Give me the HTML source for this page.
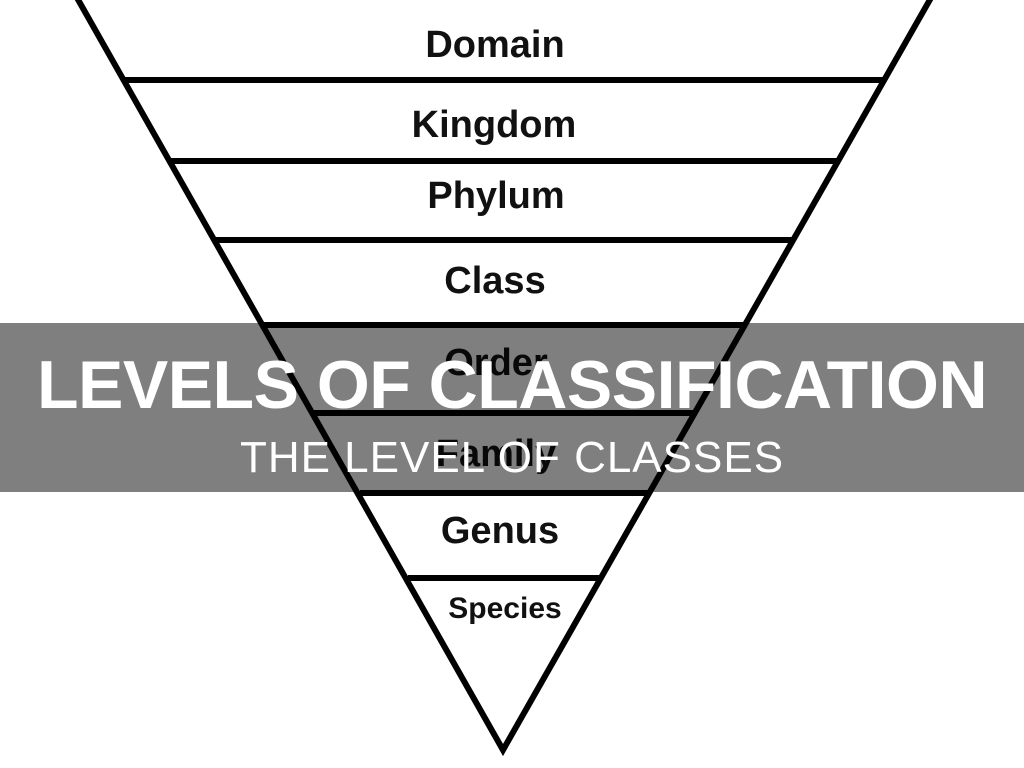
<!DOCTYPE html>
<html><head><meta charset="utf-8"><style>
html,body{margin:0;padding:0;width:1024px;height:768px;overflow:hidden;background:#fff;}
svg{position:absolute;left:0;top:0;}
.band{position:absolute;left:0;top:323px;width:1024px;height:169px;background:rgba(0,0,0,0.5);}
.t1{position:absolute;left:0;width:1024px;text-align:center;top:346px;font:bold 68px "Liberation Sans",sans-serif;color:#fff;letter-spacing:-0.5px;white-space:nowrap;}
.t2{position:absolute;left:0;width:1024px;text-align:center;top:433px;font:400 44px "Liberation Sans",sans-serif;color:#fff;letter-spacing:1px;}
</style></head><body>
<svg width="1024" height="768" viewBox="0 0 1024 768">
<g stroke="#000" stroke-width="6" fill="none" stroke-linejoin="miter">
<polyline points="76,-4 503,750 932,-4"/>
<line x1="125" y1="80" x2="885" y2="80"/>
<line x1="170" y1="161" x2="838" y2="161"/>
<line x1="216" y1="240" x2="792" y2="240"/>
<line x1="264" y1="325" x2="744" y2="325"/>
<line x1="314" y1="413" x2="694" y2="413"/>
<line x1="360" y1="493" x2="648" y2="493"/>
<line x1="408" y1="578" x2="600" y2="578"/>
</g>
<g font-family="Liberation Sans, sans-serif" font-weight="bold" fill="#111" text-anchor="middle">
<text x="495" y="57" font-size="38">Domain</text>
<text x="494" y="137" font-size="38">Kingdom</text>
<text x="496" y="208" font-size="38">Phylum</text>
<text x="495" y="293" font-size="38">Class</text>
<text x="496" y="375" font-size="38">Order</text>
<text x="496" y="466" font-size="38">Family</text>
<text x="500" y="543" font-size="38">Genus</text>
<text x="505" y="618" font-size="30">Species</text>
</g>
</svg>
<div class="band"></div>
<div class="t1">LEVELS OF CLASSIFICATION</div>
<div class="t2">THE LEVEL OF CLASSES</div>
</body></html>
